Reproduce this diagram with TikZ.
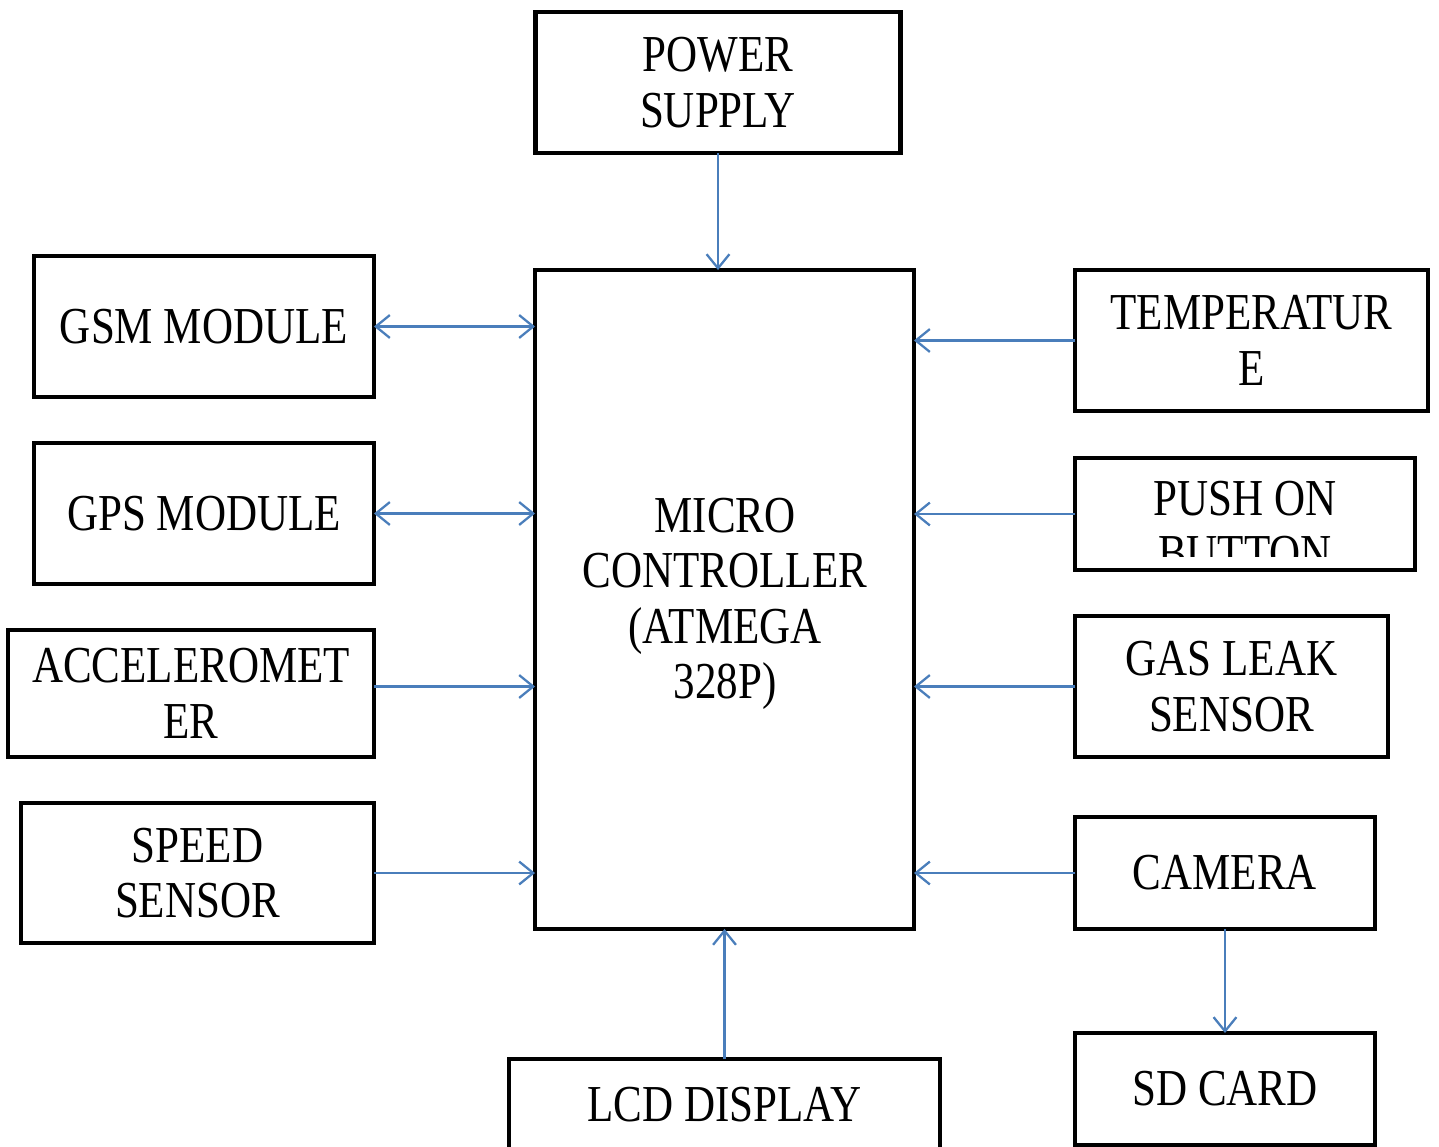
\documentclass[tikz,border=0pt]{standalone}
\usepackage{fontspec}
\setmainfont{Liberation Serif}[FakeStretch=0.83]
\usepackage{tikz}
\usetikzlibrary{positioning,arrows.meta}
\usepackage{xcolor}
\definecolor{linkblue}{HTML}{4A7EBB}

\begin{document}
\begin{tikzpicture}[x=0.02cm,y=-0.02cm,
  every node/.style={inner sep=0pt,outer sep=0pt},
  block/.style={draw=black,line width=2.7pt,align=center,font=\fontsize{29.5}{31.5}\selectfont},
  label/.style={align=center,font=\fontsize{29.5}{31.5}\selectfont},
  link/.style={draw=linkblue,line width=1.3pt,-{Straight Barb[length=8pt,width=13pt]}},
  duplex/.style={draw=linkblue,line width=1.3pt,{Straight Barb[length=8pt,width=13pt]}-{Straight Barb[length=8pt,width=13pt]}}]
\useasboundingbox (0,0) rectangle (1439,1146);
\clip (0,0) rectangle (1439,1146);
% CENTRE: controller and supply
\node[block,minimum width=7.3cm,minimum height=2.82cm] (power) at (718,82.5) {POWER\\SUPPLY};
\node[block,minimum width=7.58cm,minimum height=13.18cm] (micro) at (724.5,599.5) {};
\node[label] (microtext) at (725,604) {MICRO\\CONTROLLER\\(ATMEGA\\328P)};
\node[block,minimum width=8.62cm,minimum height=1.84cm] (lcd) at (724.5,1105) {LCD DISPLAY};
% LEFT column
\node[block,minimum width=6.8cm,minimum height=2.82cm] (gsm) at (204,326.5) {GSM MODULE};
\node[block,minimum width=6.8cm,minimum height=2.82cm] (gps) at (204,513.5) {GPS MODULE};
\node[block,minimum width=7.32cm,minimum height=2.54cm] (accel) at (191,693.5) {ACCELEROMET\\ER};
\node[block,minimum width=7.06cm,minimum height=2.8cm] (speed) at (197.5,873) {SPEED\\SENSOR};
% RIGHT column
\node[block,minimum width=7.06cm,minimum height=2.82cm] (temp) at (1251.5,340.5) {TEMPERATUR\\E};
\node[block,minimum width=6.8cm,minimum height=2.24cm] (push) at (1245,514) {};
\node[block,minimum width=6.26cm,minimum height=2.82cm] (gas) at (1231.5,686.5) {GAS LEAK\\SENSOR};
\node[block,minimum width=6.0cm,minimum height=2.24cm] (camera) at (1225,873) {CAMERA};
\node[block,minimum width=6.0cm,minimum height=2.24cm] (sdcard) at (1225,1089) {SD CARD};
% push button text runs past the box and is cut
\begin{scope}
\clip (push.north west) rectangle ([yshift=0.28cm]push.south east);
\node[label,anchor=north] (pushtext) at (1245,481) {PUSH ON\\BUTTON};
\end{scope}
% CONNECTORS
\draw[link] (power.south) -- (power.south |- micro.north);
\draw[duplex] (gsm.east) -- (gsm.east -| micro.west);
\draw[duplex] (gps.east) -- (gps.east -| micro.west);
\draw[link] (accel.east |- gas.west) -- (gas.west -| micro.west);
\draw[link] (speed.east) -- (speed.east -| micro.west);
\draw[link] (temp.west) -- (temp.west -| micro.east);
\draw[link] (push.west) -- (push.west -| micro.east);
\draw[link] (gas.west) -- (gas.west -| micro.east);
\draw[link] (camera.west) -- (camera.west -| micro.east);
\draw[link] (lcd.north) -- (micro.south);
\draw[link] (camera.south) -- (sdcard.north);
\end{tikzpicture}
\end{document}
